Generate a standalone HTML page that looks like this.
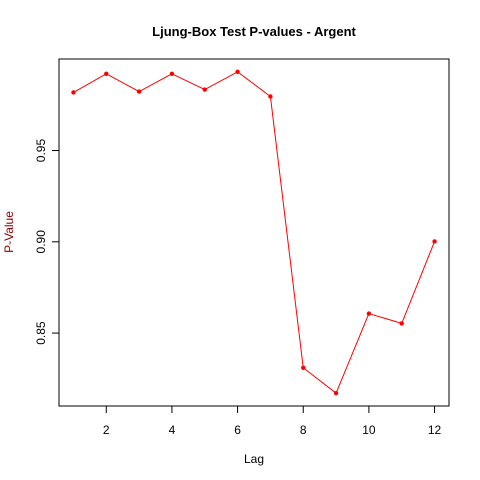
<!DOCTYPE html>
<html><head><meta charset="utf-8"><style>
body{margin:0;background:#fff}
svg{display:block;font-family:"Liberation Sans",Arial,sans-serif}
</style></head><body>
<svg id="chart" width="480" height="480" viewBox="0 0 480 480">
<rect width="480" height="480" fill="#fff"/>
<text x="254" y="36" text-anchor="middle" font-size="13" font-weight="bold">Ljung-Box Test P-values - Argent</text>
<text x="254" y="463" text-anchor="middle" font-size="12">Lag</text>
<text transform="translate(13,232) rotate(-90)" text-anchor="middle" font-size="12" fill="#8b0000">P-Value</text>
<rect x="59" y="59" width="390" height="347" fill="none" stroke="#000" stroke-width="1"/>
<g id="xaxis"></g>
<g id="yaxis"></g>
<g id="series"></g>
</svg>
<script>
const lags=[1,2,3,4,5,6,7,8,9,10,11,12];
const pvalues=[0.9818,0.9920,0.9823,0.9920,0.9834,0.9931,0.9796,0.8310,0.8171,0.8607,0.8553,0.9002];
const xTicks=[2,4,6,8,10,12];
const yTicks=[0.85,0.90,0.95];
const yTickLabels=["0.85","0.90","0.95"];

const L=59,R=449,T=59,B=406,NS="http://www.w3.org/2000/svg";
const xmin=Math.min(...lags),xmax=Math.max(...lags),xr=xmax-xmin;
const ymin=Math.min(...pvalues),ymax=Math.max(...pvalues),yr=ymax-ymin;
const x0=xmin-0.04*xr,x1=xmax+0.04*xr,y0=ymin-0.04*yr,y1=ymax+0.04*yr;
function sx(v){return L+(v-x0)/(x1-x0)*(R-L);}
function sy(v){return B-(v-y0)/(y1-y0)*(B-T);}
function mk(tag,attrs,parent){const e=document.createElementNS(NS,tag);for(const k in attrs)e.setAttribute(k,attrs[k]);parent.appendChild(e);return e;}
const xa=document.getElementById('xaxis'),ya=document.getElementById('yaxis'),sg=document.getElementById('series');
xTicks.forEach(t=>{
  const l=mk('line',{x1:sx(t),x2:sx(t),y1:B,y2:B+7,stroke:'#000'},xa);
  
  
  const tx=mk('text',{x:sx(t),y:434,'text-anchor':'middle','font-size':12},xa);
  tx.textContent=t;
  
  
});
yTicks.forEach((t,i)=>{
  const l=mk('line',{x1:L-7,x2:L,y1:sy(t),y2:sy(t),stroke:'#000'},ya);
  
  
  const tx=mk('text',{transform:`translate(45,${sy(t)}) rotate(-90)`,'text-anchor':'middle','font-size':12},ya);
  tx.textContent=yTickLabels[i];
  
  
});
const pl=mk('polyline',{points:lags.map((l,i)=>sx(l)+','+sy(pvalues[i])).join(' '),fill:'none',stroke:'#f00','stroke-width':1},sg);


lags.forEach((l,i)=>{
  const c=mk('circle',{cx:sx(l),cy:sy(pvalues[i]),r:2.2,fill:'#f00'},sg);
  
  
});
</script>
</body></html>
